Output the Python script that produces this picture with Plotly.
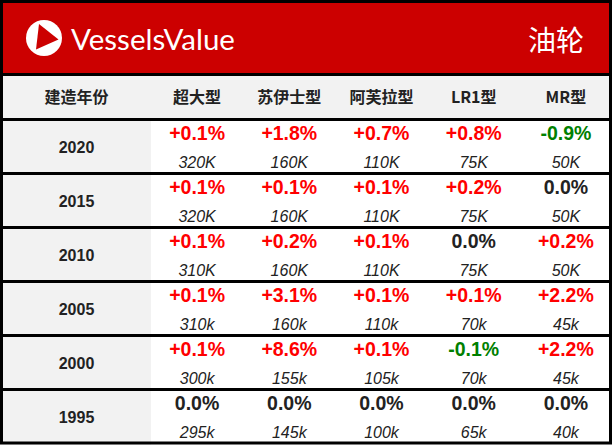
import plotly.graph_objects as go

# ---- data ----
years = ["2020", "2015", "2010", "2005", "2000", "1995"]
classes = ["超大型", "苏伊士型", "阿芙拉型", "LR1型", "MR型"]
header_first = "建造年份"
title = "油轮"
brand = "VesselsValue"

chg_2020 = [0.1, 1.8, 0.7, 0.8, -0.9]
chg_2015 = [0.1, 0.1, 0.1, 0.2, 0.0]
chg_2010 = [0.1, 0.2, 0.1, 0.0, 0.2]
chg_2005 = [0.1, 3.1, 0.1, 0.1, 2.2]
chg_2000 = [0.1, 8.6, 0.1, -0.1, 2.2]
chg_1995 = [0.0, 0.0, 0.0, 0.0, 0.0]

val_2020 = ["320K", "160K", "110K", "75K", "50K"]
val_2015 = ["320K", "160K", "110K", "75K", "50K"]
val_2010 = ["310K", "160K", "110K", "75K", "50K"]
val_2005 = ["310k", "160k", "110k", "70k", "45k"]
val_2000 = ["300k", "155k", "105k", "70k", "45k"]
val_1995 = ["295k", "145k", "100k", "65k", "40k"]

changes = [chg_2020, chg_2015, chg_2010, chg_2005, chg_2000, chg_1995]
values = [val_2020, val_2015, val_2010, val_2005, val_2000, val_1995]

# ---- layout geometry ----
W, H = 612, 445
band_h = 74
head_bot = 119
row_h = 54
first_w = 151
col_w = (W - first_w) / len(classes)

RED = "#cc0000"
GRAY = "#f2f2f2"
DARK = "#222222"
LAT = "Liberation Sans, Arial, Noto Sans CJK SC"
CJK = "Noto Sans CJK SC, Liberation Sans"


def col_x(j):
    return first_w + col_w * (j + 0.5)


def row_c(i):
    return head_bot + row_h * (i + 0.5)


def fmt(v):
    if v > 0:
        return f"+{v:.1f}%"
    if v < 0:
        return f"-{abs(v):.1f}%"
    return f"{v:.1f}%"


def color(v):
    if v > 0:
        return "#ff0000"
    if v < 0:
        return "#008000"
    return DARK


fig = go.Figure()

px, py, pt, pc = [], [], [], []
vx, vy, vt = [], [], []
for i, yr in enumerate(years):
    for j in range(len(classes)):
        px.append(col_x(j))
        py.append(row_c(i) - 11)
        pt.append(fmt(changes[i][j]))
        pc.append(color(changes[i][j]))
        vx.append(col_x(j))
        vy.append(row_c(i) + 17.5)
        vt.append(values[i][j])

shapes = [
    dict(type="rect", x0=0, x1=W, y0=0, y1=band_h, fillcolor=RED, line_width=0, layer="below"),
    dict(type="rect", x0=0, x1=W, y0=band_h, y1=head_bot, fillcolor=GRAY, line_width=0, layer="below"),
    dict(type="rect", x0=0, x1=first_w, y0=head_bot, y1=H, fillcolor=GRAY, line_width=0, layer="below"),
]
for yy in [band_h] + [head_bot + row_h * k for k in range(len(years))]:
    shapes.append(dict(type="line", x0=0, x1=W, y0=yy + 0.5, y1=yy + 0.5,
                       line=dict(color="black", width=3)))
shapes.append(dict(type="rect", x0=1.5, x1=W - 1.5, y0=1.5, y1=H - 2,
                   line=dict(color="black", width=3)))
# logo
shapes.append(dict(type="circle", x0=26, x1=62, y0=20, y1=56, fillcolor="white", line_width=0))
shapes.append(dict(type="path", path="M 39 24 L 58.5 39.5 L 36 49.5 Z", fillcolor=RED, line_width=0))

fig.add_trace(go.Scatter(
    x=px, y=py, text=pt, mode="text", hoverinfo="skip",
    textfont=dict(family=LAT, size=19.5, color=pc, weight="bold"),
))
fig.add_trace(go.Scatter(
    x=vx, y=vy, text=vt, mode="text", hoverinfo="skip",
    textfont=dict(family=LAT, size=16, color=DARK, style="italic"),
))
fig.add_trace(go.Scatter(
    x=[first_w / 2 + 1] * len(years), y=[row_c(i) + 2.5 for i in range(len(years))], text=years,
    mode="text", hoverinfo="skip",
    textfont=dict(family=LAT, size=16, color=DARK, weight="bold"),
))
hy = (band_h + head_bot) / 2 + 2
fig.add_trace(go.Scatter(
    x=[first_w / 2 + 1] + [col_x(j) for j in range(len(classes))],
    y=[hy] * (len(classes) + 1),
    text=[header_first] + classes, mode="text", hoverinfo="skip",
    textfont=dict(family=CJK, size=16, color=DARK, weight="bold"),
))

annotations = [
    dict(x=69, y=38, xref="x", yref="y", text=brand, showarrow=False, xanchor="left",
         yanchor="middle", font=dict(family="Lato, Open Sans", size=29.5, color="white")),
    dict(x=586, y=39, xref="x", yref="y", text=title, showarrow=False, xanchor="right",
         yanchor="middle", font=dict(family="Noto Sans CJK SC", size=28, color="white")),
]

fig.update_layout(
    width=W, height=H, margin=dict(l=0, r=0, t=0, b=0),
    paper_bgcolor="white", plot_bgcolor="white", showlegend=False,
    xaxis=dict(range=[0, W], visible=False, fixedrange=True),
    yaxis=dict(range=[H, 0], visible=False, fixedrange=True),
    shapes=shapes, annotations=annotations,
)

fig.write_html("out.html", config={"displayModeBar": False},
               post_script="document.body.style.margin='0';document.body.style.overflow='hidden';")
